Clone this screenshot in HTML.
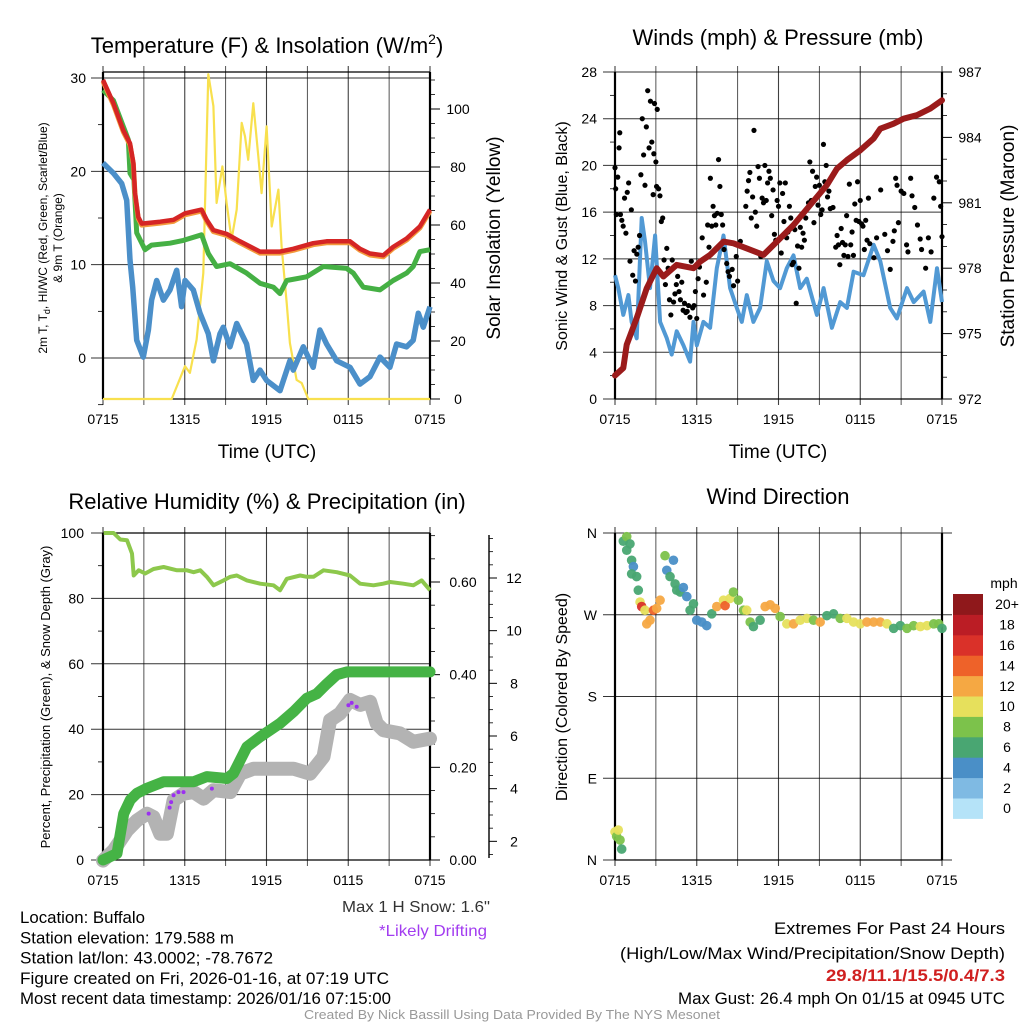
<!DOCTYPE html>
<html><head><meta charset="utf-8"><style>
html,body{margin:0;padding:0;background:#fff;}
svg{display:block;font-family:"Liberation Sans",sans-serif;}
.nar{font-family:"Liberation Sans Narrow","Liberation Sans",sans-serif;}
</style></head><body>
<svg id="fig" width="1024" height="1024" viewBox="0 0 1024 1024" xmlns="http://www.w3.org/2000/svg"></svg>
<script>
// ---------- DATA ----------
const tempT=[0,0.76,1.49,1.98,2.23,2.35,2.59,2.84,4.18,5.16,6.02,7.24,7.61,8.1,9.07,10.05,11.52,12.99,13.97,15.43,16.41,18.13,18.86,19.59,20.57,21.3,22.28,23.26,24];
const tempRed=[29.8,27.3,24.4,23,20.9,17.7,15.1,14.4,14.6,14.8,15.5,15.9,14.8,13.7,13.3,12.5,11.4,11.4,11.7,12.3,12.5,12.5,11.7,11.2,11.0,11.9,12.8,14.1,15.9];
const dewT=[0,0.76,1.49,1.86,1.98,2.27,2.47,3.08,3.57,4.92,5.89,7.24,7.73,8.34,9.32,10.54,11.52,12.5,12.99,13.48,14.95,16.17,17.88,18.37,19.1,20.33,21.3,22.28,22.77,23.26,24];
const dewGreen=[28.7,27.6,24.8,23.4,19.8,19.1,13.4,11.6,12.1,12.3,12.6,13.2,11.2,9.8,10.1,9.1,8.0,7.6,6.9,8.3,8.7,9.8,9.6,9.1,7.6,7.3,8.3,9.1,9.8,11.4,11.6];
const wcT=[0,0.76,1.37,1.74,1.98,2.18,2.47,2.96,3.33,3.57,3.94,4.43,4.92,5.41,5.77,6.02,6.63,7.12,7.73,8.1,8.59,8.83,9.32,9.81,10.54,11.03,11.52,12.01,12.99,13.72,13.97,14.7,15.43,15.92,16.41,17.15,18.13,18.86,19.59,20.33,21.06,21.55,22.28,22.77,23.14,23.51,24];
const wcBlue=[20.9,19.8,18.7,16.9,10.5,7.6,1.9,0.1,3.0,6.2,8.3,6.2,7.3,9.4,5.5,8.3,7.3,4.8,2.6,-0.3,2.6,3.3,1.2,3.7,1.5,-2.4,-1.3,-2.4,-3.5,-0.3,-1.3,1.2,-1.0,3.0,1.5,-0.3,-1.0,-2.8,-2.0,0.1,-1.0,1.5,1.2,1.9,4.8,3.3,5.5];
const solT=[0,5.04,6.02,6.38,6.87,7.36,7.73,8.1,8.34,8.76,9.07,9.44,9.81,10.18,10.42,10.66,11.03,11.4,11.64,12.01,12.38,12.87,13.11,13.48,13.72,14.21,14.58,15.07,24];
const solar=[0,0,11.3,9,20.5,43.4,112,101,67.6,80.2,67.6,55,65.3,95.2,90.6,82.5,102,83.7,71,94,59.5,72.2,52.6,33.1,19.3,6.6,5.5,0,0];

const windT=[0,0.24,0.61,0.98,1.22,1.59,1.96,2.2,2.57,2.94,3.31,3.8,4.16,4.53,5.02,5.51,5.76,6.0,6.49,6.98,7.47,7.96,8.45,8.94,9.31,9.67,10.16,10.65,11.14,11.63,12.12,12.61,13.1,13.59,14.08,14.82,15.31,15.92,16.53,17.02,17.51,18.24,18.98,19.47,20.2,20.69,21.43,21.92,22.65,23.14,23.63,24];
const windSpd=[10.6,9.5,7.2,8.9,6.6,5.2,15.5,13.5,9.5,14,6.6,5.2,3.8,5.8,4.6,3.2,6.6,4.6,6.6,6.1,11.2,14,9.5,7.8,6.6,8.9,6.6,7.8,11.8,10.1,9.5,11.2,12.3,9.5,10.3,7.2,9.5,6.1,8.3,7.8,10.9,10.6,13.2,11.8,7.8,6.9,9.5,8.3,9.2,6.6,11.2,8.3];
const presT=[0,0.61,0.86,1.59,2.33,3.06,3.55,4.53,5.76,6.24,6.98,7.96,8.69,9.67,10.9,11.88,13.1,14.33,15.55,16.29,17.02,18.0,18.98,19.47,20.45,21.18,22.16,23.14,24];
const pressure=[973.08,973.42,974.49,975.71,977.08,978.0,977.62,978.15,978.0,978.3,978.61,979.22,979.14,978.91,978.61,979.22,979.98,980.9,981.81,982.57,982.96,983.41,983.95,984.4,984.63,984.86,985.02,985.32,985.7];
const gustT=[0,0.05,0.1,0.2,0.3,0.35,0.4,0.5,0.6,0.7,0.8,0.9,1.0,1.1,1.2,1.3,1.4,1.5,1.6,1.7,1.8,1.9,2.0,2.1,2.2,2.3,2.4,2.5,2.6,2.7,2.8,2.85,2.9,3.0,3.05,3.1,3.2,3.3,3.4,3.5,3.6,3.7,3.8,3.9,4.0,4.1,4.2,4.3,4.4,4.5,4.6,4.7,4.8,4.9,5.0,5.1,5.2,5.3,5.4,5.5,5.6,5.7,5.8,5.9,6.0,6.1,6.2,6.4,6.5,6.7,6.8,6.9,7.0,7.1,7.2,7.3,7.4,7.5,7.6,7.7,7.8,7.9,8.0,8.2,8.3,8.4,8.6,8.7,8.9,9.0,9.2,9.6,9.7,9.8,9.9,10.0,10.1,10.2,10.3,10.4,10.5,10.6,10.7,10.8,10.9,11.0,11.1,11.2,11.3,11.4,11.5,11.6,11.7,11.8,11.9,12.0,12.1,12.2,12.3,12.4,12.5,12.6,12.7,12.8,12.9,13.0,13.1,13.2,13.3,13.4,13.5,13.6,13.7,13.8,13.9,14.0,14.2,14.3,14.4,14.5,14.6,14.7,14.8,14.9,15.0,15.1,15.2,15.3,15.4,15.5,15.6,15.7,15.8,16.0,16.2,16.3,16.4,16.5,16.6,16.7,16.8,16.9,17.0,17.1,17.2,17.3,17.4,17.5,17.6,17.7,17.8,17.9,18.0,18.1,18.2,18.3,18.4,18.5,18.6,18.7,19.0,19.2,19.5,19.8,20.0,20.2,20.4,20.5,20.6,20.7,20.8,21.0,21.2,21.4,21.5,21.7,21.8,22.0,22.2,22.4,22.5,22.8,23.0,23.2,23.4,23.6,23.8,23.9,24.0];
const gust=[19.8,18,15.8,19,21.5,22.8,15.8,15.3,14.8,17.2,14.2,17.7,18.5,11.8,16.2,10.6,12.7,10.1,12.4,13,14,19.2,24,20.9,18.3,23.3,26.4,21.5,25.5,22,17.5,21,25.3,20.3,18.2,24.8,18,17.4,15.2,15.5,11.9,9.8,12.9,11.2,8.5,7.2,11.9,8.3,9,9.8,10.5,9.2,8.5,10,7.6,8.2,7.4,7.5,8.0,7,11.8,7.8,8,9.2,6.9,10.3,11.3,13.8,8.9,10,14.9,13,18.9,14.8,16.5,15.7,14.9,15.9,20.5,18.2,15.8,14.9,12.8,11.6,10.9,10.5,11.1,9.7,12.2,10.1,13.5,16.5,17.8,18.7,19.4,15.5,17.3,23,16,14.8,19.9,18.9,12.2,17.2,16.8,20,17,18.5,19.5,18.9,15.7,17.9,14.1,13.6,17,16.5,18.5,12.5,17.6,15.2,18.5,13.8,14.3,16.5,15.5,11.5,11.7,14.5,8.2,13.1,11.2,14.7,13,14.2,13.6,15.5,16.8,20.3,17,19.5,15.1,18.2,19,16.6,18.3,15.8,16.2,21.8,18.6,20,17.3,17.8,16.3,16.4,13,14,13.2,11.5,14.6,13.4,12.3,13.2,15.7,12.2,18.4,13.2,14.3,12.3,16.7,15.3,18.6,15.2,17,15,14.8,12.8,15.3,13.6,17.2,13.3,12.1,13.8,17.9,14.1,12.7,11.1,13.5,14.4,18.9,18.3,15.1,17.8,17.6,13.2,12.6,18.9,17.4,16.4,14.9,13.7,12.8,11.2,13.8,12.6,17.2,19,18.6,16.5,13.9];

const rhT=[0.05,0.78,1.27,1.76,2.13,2.25,2.62,3.1,3.71,4.45,5.43,6.16,6.65,7.14,7.62,8.11,8.85,9.34,9.82,10.56,11.54,12.51,13.0,13.49,14.47,14.96,15.45,16.18,17.16,18.13,18.87,19.85,20.56,21.07,22.04,22.78,23.39,24];
const rh=[100,100,98,97.8,93.7,87,88.6,87.6,89,89.6,88.6,88.6,88,88.6,86.6,84,85.5,86.6,87,85.5,84.5,84,82.5,86,87,86.6,86.6,88.6,88,87,84.5,84,84.5,85,84.5,84,85.5,82.5];
const precT=[0,1.03,1.52,2.0,2.49,3.23,4.45,6.65,7.62,9.09,9.58,10.56,11.54,13.0,13.98,14.96,15.69,16.42,17.16,17.89,24];
const precip=[0,0.014,0.10,0.13,0.144,0.155,0.169,0.169,0.18,0.176,0.187,0.244,0.266,0.295,0.32,0.349,0.359,0.38,0.40,0.406,0.406];
const snowT=[0,0.78,1.76,2.49,3.23,3.71,4.2,4.69,5.18,5.91,6.65,7.38,8.11,9.34,10.07,11.05,12.51,13.98,15.2,16.18,16.67,17.4,18.13,18.87,19.6,20.09,20.58,21.8,22.78,24];
const snow=[1.27,1.65,2.41,2.79,3.05,2.92,2.29,2.29,3.56,3.81,3.87,3.62,3.94,3.87,4.57,4.76,4.76,4.76,4.57,5.21,6.6,6.86,7.37,7.18,7.3,6.48,6.22,6.1,5.78,5.9];
const driftT=[3.35,4.89,5.0,5.18,5.54,5.91,7.99,18.01,18.25,18.62];
const drift=[3.05,3.28,3.49,3.75,3.87,3.87,4.0,7.17,7.26,7.11];

const dirT=[0,0.12,0.24,0.37,0.49,0.61,0.86,1.1,0.86,1.22,1.35,1.22,1.59,1.71,1.84,1.96,2.2,2.33,2.57,2.82,3.06,3.31,3.67,3.8,4.04,4.29,4.41,4.53,4.78,5.02,5.27,5.51,5.76,6.0,6.37,6.73,7.1,7.47,7.96,8.08,8.45,8.69,9.06,9.43,9.67,9.92,10.16,10.65,11.02,11.39,11.76,12.12,12.61,13.1,13.59,14.08,14.57,15.06,15.55,16.04,16.53,17.02,17.51,18.0,18.49,18.98,19.47,19.96,20.45,20.94,21.43,21.92,22.41,22.9,23.39,23.76,24];
const dirDeg=[31,26,33,22,12,351,356,348,341,330,323,315,312,297,284,279,275,260,264,275,277,286,335,319,312,330,304,297,295,300,290,275,282,264,262,258,271,279,286,280,288,295,286,275,275,262,257,264,279,281,277,268,260,260,264,266,264,262,269,271,266,266,262,260,262,262,262,260,255,258,255,258,257,258,260,260,255];
const dirSpd=[10,8,10,8,6,6,8,6,6,6,4,6,6,6,10,16,10,12,12,14,12,12,8,4,6,4,6,6,6,4,4,6,6,4,4,4,6,12,10,14,10,8,8,8,10,8,6,6,12,12,12,8,10,12,10,10,8,12,6,6,8,10,10,10,12,12,12,10,6,6,8,8,10,10,8,8,6];
const cbLabels=["0","2","4","6","8","10","12","14","16","18","20+"];
const cbColors=["#b5e3f8","#7fbae3","#4a8fc7","#49a672","#7cc24b","#e6e05c","#f5a843","#ee6229","#da3129","#bb1d25","#8f181b"];
const xTickLabels=["0715","1315","1915","0115","0715"];
const xTickHours=[0,6,12,18,24];

// ---------- HELPERS ----------
const NS="http://www.w3.org/2000/svg";
const svg=document.getElementById('fig');
function el(tag,attrs,parent){const e=document.createElementNS(NS,tag);for(const k in attrs)e.setAttribute(k,attrs[k]);(parent||svg).appendChild(e);return e;}
function lin(d0,d1,r0,r1){return v=>r0+(v-d0)/(d1-d0)*(r1-r0);}
function txt(x,y,s,size,anchor,extra){const t=el('text',Object.assign({x:x,y:y,'font-size':size,'text-anchor':anchor||'middle',fill:'#000'},extra||{}));t.textContent=s;return t;}
function pathD(xs,ys,fx,fy){return xs.map((t,i)=>(i?'L':'M')+fx(t).toFixed(1)+','+fy(ys[i]).toFixed(1)).join('');}

function panelFrame(X0,X1,Y0,Y1,fx,name){
  const g=el('g',{});
  
  
  for(let h=0;h<=24;h+=3){el('line',{x1:fx(h),x2:fx(h),y1:Y0-6,y2:Y1+6,stroke:'#000','stroke-width':h%6==0?1.1:0.9,'stroke-opacity':0.75},g);}
  xTickHours.forEach((h,i)=>{const t=txt(fx(h),Y1+25,xTickLabels[i],14);});
  el('line',{x1:X0,x2:X0,y1:Y0,y2:Y1,stroke:'#000','stroke-width':2.2},g);
  el('line',{x1:X1,x2:X1,y1:Y0,y2:Y1,stroke:'#000','stroke-width':2.2},g);
  el('line',{x1:X0,x2:X1,y1:Y1,y2:Y1,stroke:'#000','stroke-width':1.2},g);
  return g;
}
function hgrid(fy,vals,X0,X1,labels,leftX,minorVals){
  vals.forEach((v,i)=>{el('line',{x1:X0-12,x2:X1,y1:fy(v),y2:fy(v),stroke:'#000','stroke-width':1,'stroke-opacity':0.8});
    const t=txt(leftX,fy(v)+5,labels[i],14,'end');});
  (minorVals||[]).forEach(v=>el('line',{x1:X0-5,x2:X0,y1:fy(v),y2:fy(v),stroke:'#000','stroke-width':0.8}));
}
function rightAxis(X,fy,vals,labels,minorVals,tickLen,labelX){
  vals.forEach((v,i)=>{el('line',{x1:X,x2:X+tickLen,y1:fy(v),y2:fy(v),stroke:'#000','stroke-width':1});
    const t=txt(labelX,fy(v)+5,labels[i],14,'middle');});
  (minorVals||[]).forEach(v=>el('line',{x1:X,x2:X+tickLen/2,y1:fy(v),y2:fy(v),stroke:'#000','stroke-width':0.8}));
}
function rot(x,y,s,size,name,extra){const t=txt(x,y,s,size,'middle',Object.assign({transform:`rotate(-90 ${x} ${y})`},extra||{}));return t;}

// ---------- PANEL 1 ----------
{
const X0=103,X1=430,Y0=72,Y1=399;
const fx=lin(0,24,X0,X1), fy=lin(0,30,358,78), fs=lin(0,100,399,109);
panelFrame(X0,X1,Y0,Y1,fx,'temperature-panel');
el('line',{x1:X0,x2:X1,y1:Y0,y2:Y0,stroke:'#000','stroke-width':1.2});
hgrid(fy,[0,10,20,30],X0,X1,['0','10','20','30'],86,[-5,5,15,25]);
rightAxis(X1,fs,[0,20,40,60,80,100],['0','20','40','60','80','100'],[5,10,15,25,30,35,45,50,55,65,70,75,85,90,95,105,110],10,458);
const t=txt(267,53,'Temperature (F) & Insolation (W/m',22);
const ts=el('tspan',{dy:-9,'font-size':14},t);ts.textContent='2';const ts2=el('tspan',{dy:9},t);ts2.textContent=')';
const xl=txt(267,458,'Time (UTC)',19);
const yl=el('text',{x:0,y:0,'font-size':12,'text-anchor':'middle',transform:'translate(47,238) rotate(-90)'});

const a=el('tspan',{x:0,dy:0},yl);a.textContent='2m T, T';const sub=el('tspan',{dy:3,'font-size':9},yl);sub.textContent='d';const b=el('tspan',{dy:-3},yl);b.textContent=', HI/WC (Red, Green, Scarlet/Blue)';
const c=el('tspan',{x:0,dy:15},yl);c.textContent='& 9m T (Orange)';
rot(500,238,'Solar Insolation (Yellow)',19,'solar-y-axis-title');
const sl=el('path',{d:pathD(solT,solar,fx,fs),fill:'none',stroke:'#f8e04e','stroke-width':2.2,'stroke-linejoin':'round'});

const bl=el('path',{d:pathD(wcT,wcBlue,fx,fy),fill:'none',stroke:'#4b8fc9','stroke-width':5.5,'stroke-linejoin':'round'});

const gl=el('path',{d:pathD(dewT,dewGreen,fx,fy),fill:'none',stroke:'#45b044','stroke-width':5,'stroke-linejoin':'round'});

const ol=el('path',{d:pathD(tempT,tempRed,fx,v=>fy(v)+1.5),fill:'none',stroke:'#f39a3c','stroke-width':5,'stroke-linejoin':'round'});

const rl=el('path',{d:pathD(tempT,tempRed,fx,fy),fill:'none',stroke:'#d52525','stroke-width':4.5,'stroke-linejoin':'round'});

}

// ---------- PANEL 2 ----------
{
const X0=615,X1=942,Y0=72,Y1=399;
const fx=lin(0,24,X0,X1), fy=lin(0,28,399,72), fp=lin(972,987,399,72);
panelFrame(X0,X1,Y0,Y1,fx,'winds-panel');
hgrid(fy,[0,4,8,12,16,20,24,28],X0,X1,['0','4','8','12','16','20','24','28'],597,[2,6,10,14,18,22,26]);
rightAxis(X1,fp,[972,975,978,981,984,987],['972','975','978','981','984','987'],[973,974,976,977,979,980,982,983,985,986],10,970);
const t=txt(778,45,'Winds (mph) & Pressure (mb)',22);
const xl=txt(778,458,'Time (UTC)',19);
rot(567,236,'Sonic Wind & Gust (Blue, Black)',16,'wind-y-axis-title');
rot(1014,236,'Station Pressure (Maroon)',19,'pressure-y-axis-title');
const wl=el('path',{d:pathD(windT,windSpd,fx,fy),fill:'none',stroke:'#5199d4','stroke-width':4,'stroke-linejoin':'round'});

gustT.forEach((h,i)=>{const c=el('circle',{cx:fx(h),cy:fy(gust[i]),r:2.6,fill:'#000'});

});
const pl=el('path',{d:pathD(presT,pressure,fx,fp),fill:'none',stroke:'#9b1b1b','stroke-width':6,'stroke-linejoin':'round','stroke-linecap':'round'});

}

// ---------- PANEL 3 ----------
{
const X0=103,X1=430,Y0=533,Y1=860;
const fx=lin(0,24,X0,X1), fy=lin(0,100,860,533), fpr=lin(0,0.6,860,582), fsn=lin(0,12,894,578);
panelFrame(X0,X1,Y0,Y1,fx,'humidity-panel');
el('line',{x1:X0,x2:X1,y1:Y0,y2:Y0,stroke:'#000','stroke-width':1.2});
hgrid(fy,[0,20,40,60,80,100],X0,X1,['0','20','40','60','80','100'],84,[10,30,50,70,90]);
rightAxis(X1,fpr,[0,0.2,0.4,0.6],['0.00','0.20','0.40','0.60'],[0.05,0.1,0.15,0.25,0.3,0.35,0.45,0.5,0.55,0.65,0.7],10,463);
el('line',{x1:489,x2:489,y1:535,y2:858,stroke:'#000','stroke-width':1.4});
[2,4,6,8,10,12].forEach(v=>{el('line',{x1:489,x2:497,y1:fsn(v),y2:fsn(v),stroke:'#000'});const t=txt(514,fsn(v)+5,String(v),14);});
[1.5,2.5,3,3.5,4.5,5,5.5,6.5,7,7.5,8.5,9,9.5,10.5,11,11.5,12.5,13,13.5].forEach(v=>el('line',{x1:489,x2:493,y1:fsn(v),y2:fsn(v),stroke:'#000','stroke-width':0.8}));
const t=txt(267,509,'Relative Humidity (%) & Precipitation (in)',22);
rot(50,697,'Percent, Precipitation (Green), & Snow Depth (Gray)',13,'humidity-y-axis-title');
const sl=el('path',{d:pathD(snowT,snow,fx,fsn),fill:'none',stroke:'#b3b3b3','stroke-width':14,'stroke-linejoin':'round','stroke-linecap':'round'});

const pl=el('path',{d:pathD(precT,precip,fx,fpr),fill:'none',stroke:'#45b345','stroke-width':11,'stroke-linejoin':'round','stroke-linecap':'round'});

const rl=el('path',{d:pathD(rhT,rh,fx,fy),fill:'none',stroke:'#8dc84c','stroke-width':4,'stroke-linejoin':'round'});

driftT.forEach((h,i)=>{const c=el('circle',{cx:fx(h),cy:fsn(drift[i]),r:2,fill:'#9b30f0'});

});
const m=txt(490,912,'Max 1 H Snow: 1.6"',16,'end',{class:'nar',fill:'#333',textLength:148,lengthAdjust:'spacingAndGlyphs'});
const d=txt(487,936,'*Likely Drifting',16,'end',{class:'nar',fill:'#a23cf0',textLength:108,lengthAdjust:'spacingAndGlyphs'});
}

// ---------- PANEL 4 ----------
{
const X0=615,X1=942,Y0=533,Y1=860;
const fx=lin(0,24,X0,X1), fd=lin(0,360,860,533);
panelFrame(X0,X1,Y0,Y1,fx,'wind-direction-panel');
hgrid(fd,[0,90,180,270,360],X0,X1+10,['N','E','S','W','N'],597,[]);
const t=txt(778,504,'Wind Direction',22);
rot(567,697,'Direction (Colored By Speed)',16,'direction-y-axis-title');
dirT.forEach((h,i)=>{const idx=Math.min(10,Math.floor(dirSpd[i]/2));const c=el('circle',{cx:fx(h),cy:fd(dirDeg[i]),r:4.8,fill:cbColors[idx],'fill-opacity':0.95});

});
const cb=el('g',{});
const top=594,bh=20.4;
cbColors.forEach((col,i)=>{el('rect',{x:953,y:top+(10-i)*bh,width:30,height:bh+0.5,fill:col},cb);
 const l=txt(1007,top+(10-i)*bh+bh/2+5,cbLabels[i],14);});
const u=txt(1004,588,'mph',14);
}

// ---------- FOOTER TEXT ----------
const leftLines=['Location: Buffalo','Station elevation: 179.588 m','Station lat/lon: 43.0002; -78.7672','Figure created on Fri, 2026-01-16, at 07:19 UTC','Most recent data timestamp: 2026/01/16 07:15:00'];
const leftWidths=[125,214,253,369,371];
leftLines.forEach((s,i)=>{const t=txt(20,923+i*20.3,s,16.5,'start',{class:'nar',textLength:leftWidths[i],lengthAdjust:'spacingAndGlyphs'});});
const r1=txt(1005,934,'Extremes For Past 24 Hours',16.5,'end',{class:'nar',textLength:231,lengthAdjust:'spacingAndGlyphs'});
const r2=txt(1005,959,'(High/Low/Max Wind/Precipitation/Snow Depth)',16.5,'end',{class:'nar',textLength:385,lengthAdjust:'spacingAndGlyphs'});
const r3=txt(1005,981,'29.8/11.1/15.5/0.4/7.3',16.5,'end',{class:'nar',fill:'#d02020','font-weight':'bold',textLength:179,lengthAdjust:'spacingAndGlyphs'});
const r4=txt(1005,1004,'Max Gust: 26.4 mph On 01/15 at 0945 UTC',16.5,'end',{class:'nar',textLength:327,lengthAdjust:'spacingAndGlyphs'});
const cr=txt(512,1019,'Created By Nick Bassill Using Data Provided By The NYS Mesonet',13,'middle',{class:'nar',fill:'#999',textLength:416,lengthAdjust:'spacingAndGlyphs'});
</script>
</body></html>
